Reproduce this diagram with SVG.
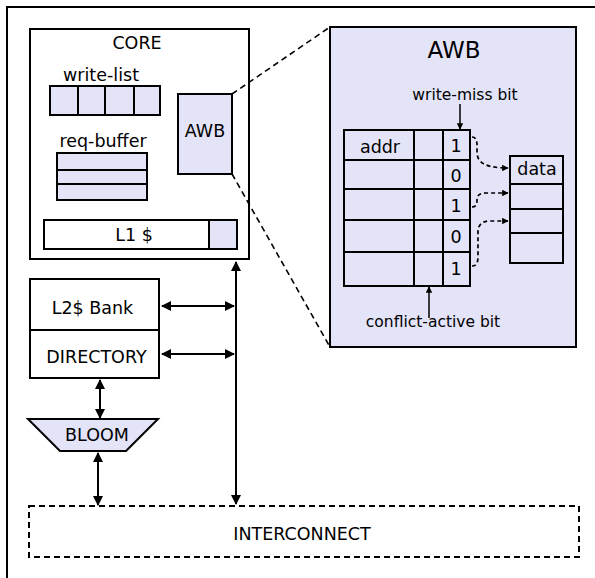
<svg xmlns="http://www.w3.org/2000/svg" width="595" height="578" viewBox="0 0 595 578">
<style>
text{font-family:"DejaVu Sans","Liberation Sans",sans-serif;fill:#000;text-anchor:middle}
.t{font-size:17.5px}
.s{font-size:15.5px}
.b{stroke:#000;stroke-width:2;fill:#fff}
.f{stroke:#000;stroke-width:2;fill:#e4e4f8}
.ln{stroke:#000;stroke-width:2;fill:none}
.dl{stroke:#000;stroke-width:1.6;fill:none;stroke-dasharray:6,4}
.dc{stroke:#000;stroke-width:1.7;fill:none;stroke-dasharray:4,3}
</style>
<defs>
<marker id="ah" viewBox="0 0 10 10" refX="9" refY="5" markerUnits="userSpaceOnUse" markerWidth="10" markerHeight="10" orient="auto-start-reverse"><path d="M0,0 L10,5 L0,10 z" fill="#000"/></marker>
<marker id="as" viewBox="0 0 10 10" refX="9" refY="5" markerUnits="userSpaceOnUse" markerWidth="6.5" markerHeight="6.5" orient="auto-start-reverse"><path d="M0,0 L10,5 L0,10 z" fill="#000"/></marker>
</defs>
<path d="M7,578 V7 H595" class="ln"/>
<g id="core">
<rect x="30" y="29" width="219" height="230" class="b"/>
<text x="137" y="49" class="t">CORE</text>
</g>
<g id="write-list">
<text x="101" y="81" class="t">write-list</text>
<rect x="50" y="86" width="110" height="29" class="f"/>
<path d="M78,86 V115 M105,86 V115 M134,86 V115" class="ln"/>
</g>
<g id="req-buffer">
<text x="103" y="147" class="t">req-buffer</text>
<rect x="57" y="153" width="90" height="47" class="f"/>
<path d="M57,170 H147 M57,184 H147" class="ln"/>
</g>
<g id="awb-small">
<rect x="178" y="94" width="54" height="80" class="f"/>
<text x="205" y="137" class="t">AWB</text>
</g>
<g id="l1">
<rect x="44" y="220" width="193" height="29" class="b"/>
<rect x="209" y="220" width="28" height="29" class="f"/>
<text x="134" y="241" class="t">L1 $</text>
</g>
<g id="awb">
<rect x="330" y="27" width="246" height="320" class="f"/>
<text x="454" y="58" style="font-size:23px">AWB</text>
<text x="465" y="100" class="s">write-miss bit</text>
<text x="433" y="327" class="s">conflict-active bit</text>
</g>
<g id="awb-table">
<rect x="344" y="130" width="126" height="156" class="f"/>
<path d="M344,160 H470 M344,189 H470 M344,220 H470 M344,252 H470 M414,130 V286 M443,130 V286" class="ln"/>
<text x="380" y="153" class="t">addr</text>
<text x="456" y="152" class="t">1</text>
<text x="456" y="182" class="t">0</text>
<text x="456" y="212" class="t">1</text>
<text x="456" y="243" class="t">0</text>
<text x="456" y="275" class="t">1</text>
</g>
<g id="data-table">
<rect x="510" y="156" width="53" height="107" class="f"/>
<path d="M510,184 H563 M510,209 H563 M510,233 H563" class="ln"/>
<text x="537" y="175" class="t">data</text>
</g>
<g id="l2">
<rect x="30" y="279" width="129" height="99" class="b"/>
<path d="M30,330 H159" class="ln"/>
<text x="92.5" y="314" class="t">L2$ Bank</text>
<text x="96.5" y="363" class="t">DIRECTORY</text>
</g>
<g id="bloom">
<path d="M28,419 H158 L126,451 H60 Z" class="f"/>
<text x="97" y="441" class="t">BLOOM</text>
</g>
<g id="interconnect">
<rect x="29" y="506" width="550" height="51" fill="none" stroke="#000" stroke-width="2" stroke-dasharray="6,4"/>
<text x="302" y="540" class="t">INTERCONNECT</text>
</g>
<g id="connectors">
<path d="M232,94 L330,27 M232,174 L330,347" class="dl"/>
<path d="M236,262 V504" class="ln" marker-start="url(#ah)" marker-end="url(#ah)"/>
<path d="M162,306 H234" class="ln" marker-start="url(#ah)" marker-end="url(#ah)"/>
<path d="M162,354 H234" class="ln" marker-start="url(#ah)" marker-end="url(#ah)"/>
<path d="M100,380 V418" class="ln" marker-start="url(#ah)" marker-end="url(#ah)"/>
<path d="M98,453 V505" class="ln" marker-start="url(#ah)" marker-end="url(#ah)"/>
<path d="M460,104 V129" stroke="#000" stroke-width="1.5" marker-end="url(#as)"/>
<path d="M429,318 V287" stroke="#000" stroke-width="1.5" marker-end="url(#as)"/>
<path d="M472,137 C478,137 477,145 477,152 C477,164 488,168 508,168" class="dc" marker-end="url(#as)"/>
<path d="M472,207 C477,207 477,203 477,200 C477,195 480,193 486,193 L508,193" class="dc" marker-end="url(#as)"/>
<path d="M472,266 C477,266 478,262 478,256 L478,232 C478,225 482,221 490,221 L508,221" class="dc" marker-end="url(#as)"/>
</g>
</svg>
